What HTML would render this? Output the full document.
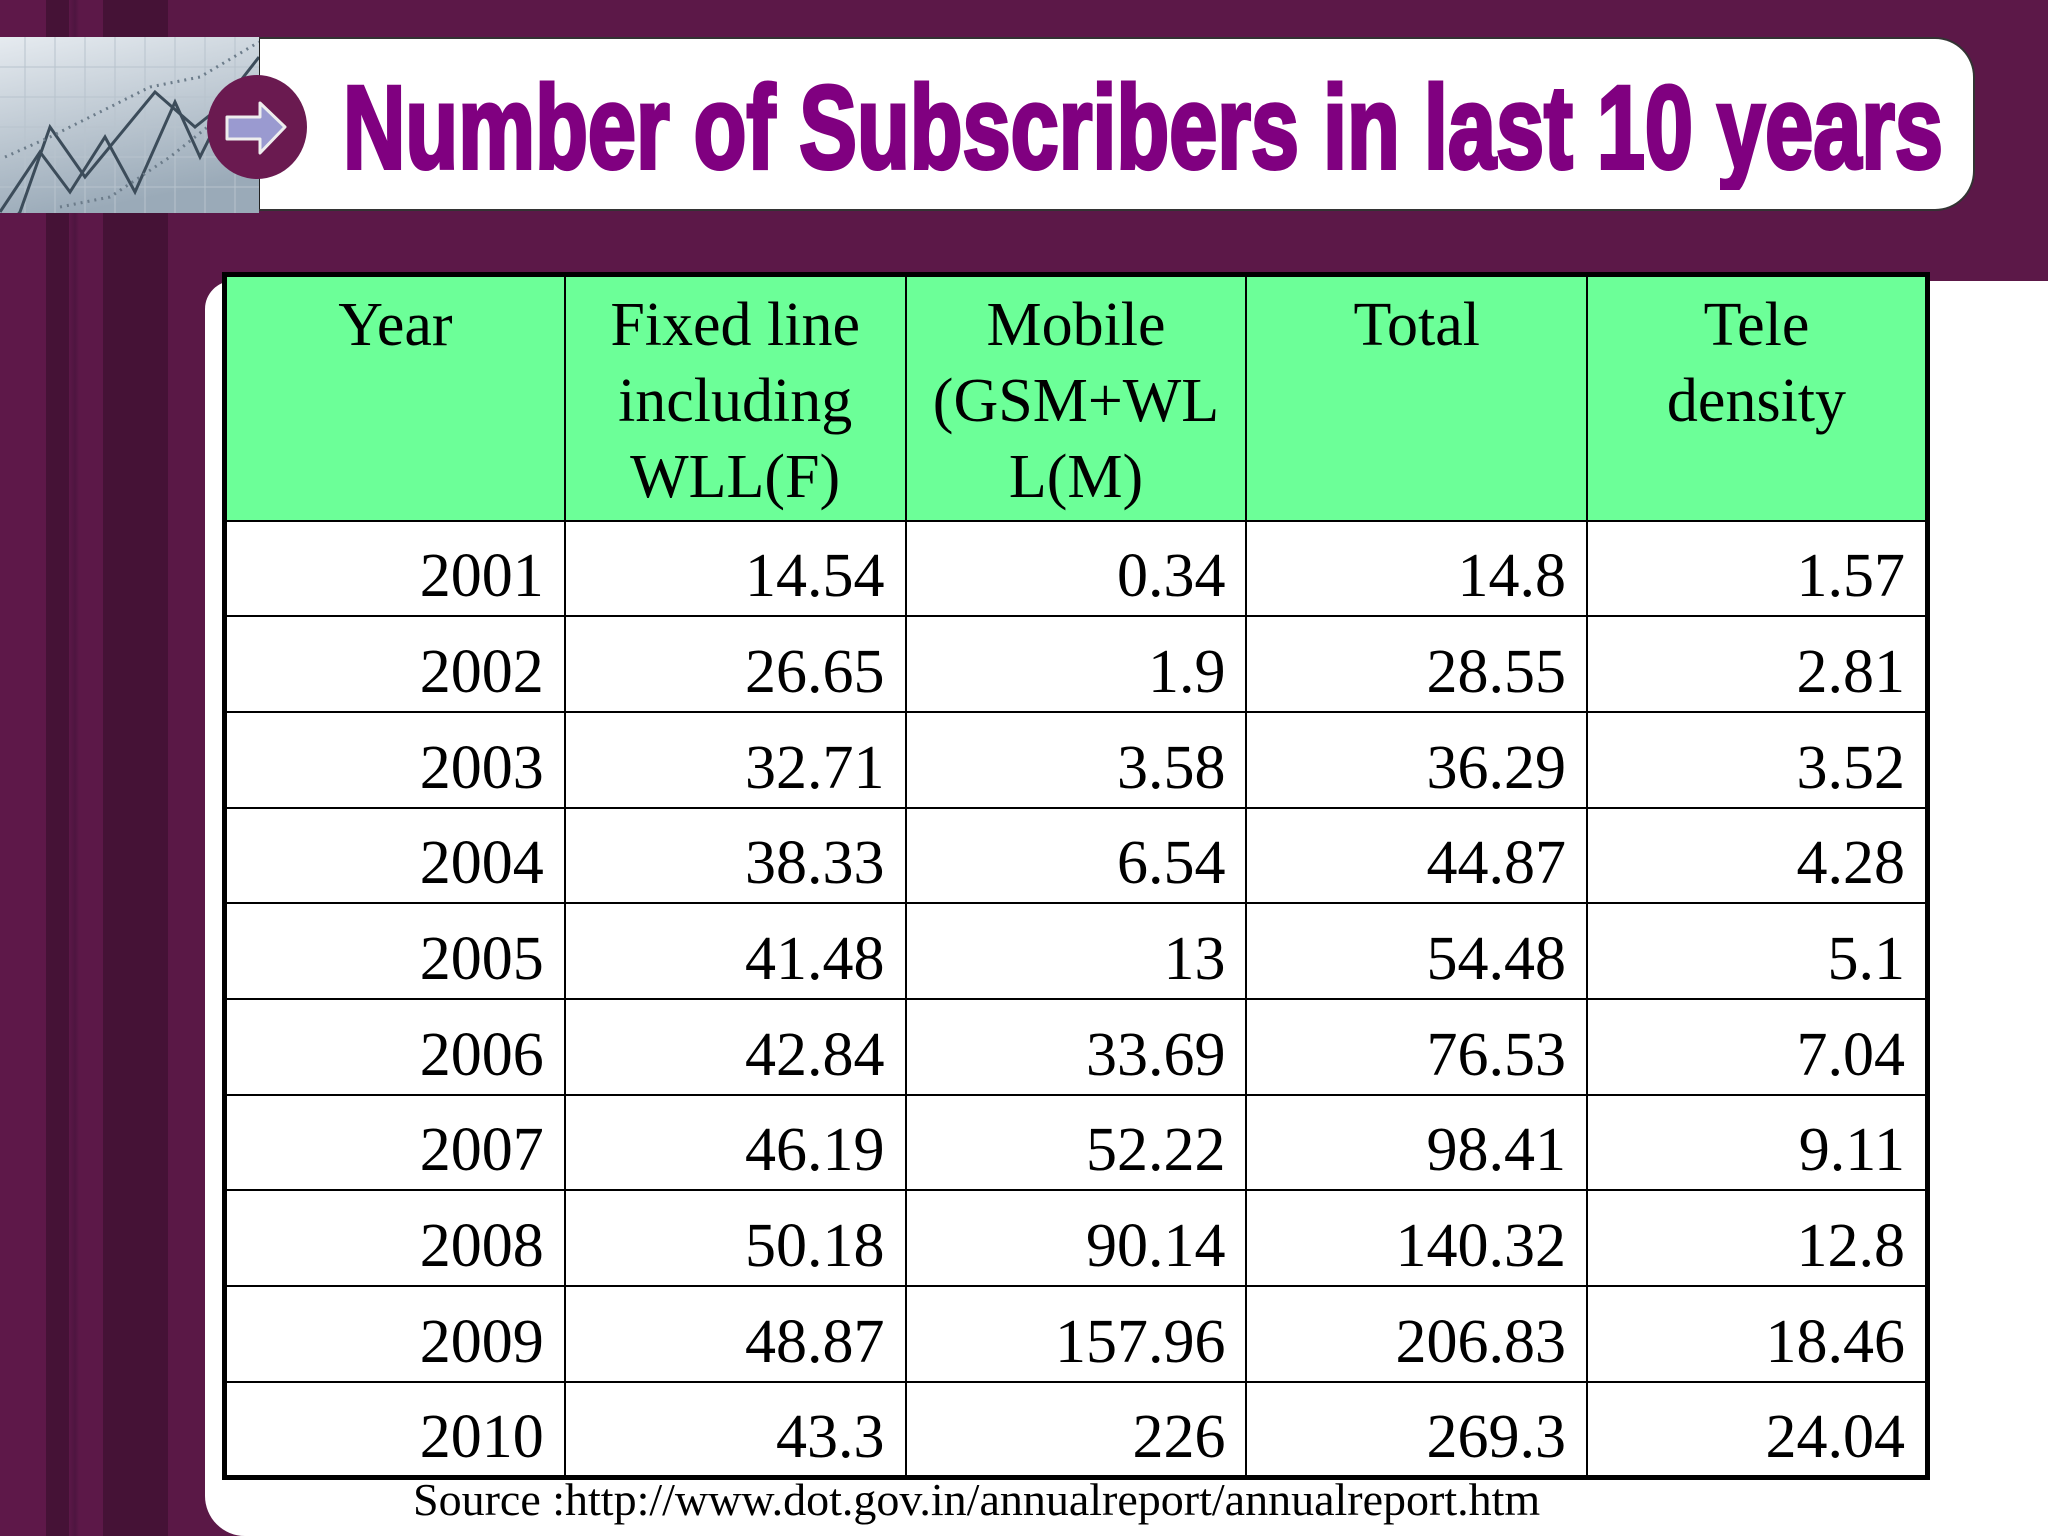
<!DOCTYPE html>
<html><head><meta charset="utf-8"><style>
html,body{margin:0;padding:0}
body{width:2048px;height:1536px;position:relative;overflow:hidden;background:#5c1848;font-family:"Liberation Serif",serif}
.abs{position:absolute}
table{border-collapse:collapse;position:absolute;left:222px;top:272px;width:1708px;border:5px solid #000}
td,th{border:2px solid #000;font-weight:normal;font-size:62px;color:#000;padding:0 20px;width:341px;box-sizing:border-box}
th{background:#6cff98;height:246px;vertical-align:top;text-align:center;line-height:76px;padding-top:10px}
td{height:95.7px;text-align:right;line-height:60px;padding-top:16px;background:#fff}
</style></head><body>
<div class="abs" style="left:0;top:0;width:210px;height:1536px;background:linear-gradient(90deg,#5e1849 0,#5e1849 46px,#451236 46px,#451236 69px,#5c1848 69px,#4e1540 75px,#5c1848 79px,#5c1848 103px,#451236 103px,#451236 168px,#5a1846 168px)"></div>
<div class="abs" style="left:205px;top:281px;width:1843px;height:1255px;background:#fff;border-radius:28px 0 0 40px"></div>
<div class="abs" style="left:257px;top:37px;width:1718px;height:174px;background:#fff;border:2px solid #333;border-left:3px solid #222;border-radius:0 40px 40px 0;box-sizing:border-box"></div>
<svg class="abs" style="left:0;top:37px" width="259" height="176" viewBox="0 0 259 176">
<defs><linearGradient id="g" x1="0" y1="0" x2="0.3" y2="1"><stop offset="0" stop-color="#e6ebf0"/><stop offset="1" stop-color="#9aaab8"/></linearGradient></defs>
<rect width="259" height="176" fill="url(#g)"/>
<g stroke="#b8c3cd" stroke-width="1"><path d="M0 30H259M0 60H259M0 90H259M0 120H259M0 150H259M25 0V176M55 0V176M85 0V176M115 0V176M145 0V176M175 0V176M205 0V176M235 0V176"/></g>
<polyline points="0,175 40,115 70,155 105,100 135,155 175,65 200,120 230,60 259,40" fill="none" stroke="#3c4c5a" stroke-width="3"/>
<polyline points="0,200 20,175 50,90 85,140 155,55 195,90 220,70 259,20" fill="none" stroke="#3c4c5a" stroke-width="3"/>
<polyline points="5,120 50,100 150,50 200,40 259,5" fill="none" stroke="#6c7c8a" stroke-width="3" stroke-dasharray="2 5"/>
<polyline points="60,170 110,160 170,120 220,80" fill="none" stroke="#6c7c8a" stroke-width="3" stroke-dasharray="2 5"/>
</svg>
<svg class="abs" style="left:205px;top:75px" width="105" height="105" viewBox="0 0 105 105">
<ellipse cx="52" cy="52" rx="50" ry="52" fill="#6a1a50"/>
<path d="M22 42H55V28L80 52L55 78V64H22Z" fill="#9a9ad0" stroke="#eee" stroke-width="3" stroke-linejoin="round"/>
</svg>
<svg class="abs" style="left:330px;top:60px" width="1630" height="130">
<text x="13" y="108" textLength="1600" lengthAdjust="spacingAndGlyphs" font-family="Liberation Sans Narrow, Liberation Sans, sans-serif" font-weight="bold" font-size="118" fill="#800080" stroke="#800080" stroke-width="4">Number of Subscribers in last 10 years</text>
</svg>
<table>
<tr><th>Year</th><th>Fixed line including WLL(F)</th><th>Mobile (GSM+WL L(M)</th><th>Total</th><th>Tele density</th></tr>
<tr><td>2001</td><td>14.54</td><td>0.34</td><td>14.8</td><td>1.57</td></tr>
<tr><td>2002</td><td>26.65</td><td>1.9</td><td>28.55</td><td>2.81</td></tr>
<tr><td>2003</td><td>32.71</td><td>3.58</td><td>36.29</td><td>3.52</td></tr>
<tr><td>2004</td><td>38.33</td><td>6.54</td><td>44.87</td><td>4.28</td></tr>
<tr><td>2005</td><td>41.48</td><td>13</td><td>54.48</td><td>5.1</td></tr>
<tr><td>2006</td><td>42.84</td><td>33.69</td><td>76.53</td><td>7.04</td></tr>
<tr><td>2007</td><td>46.19</td><td>52.22</td><td>98.41</td><td>9.11</td></tr>
<tr><td>2008</td><td>50.18</td><td>90.14</td><td>140.32</td><td>12.8</td></tr>
<tr><td>2009</td><td>48.87</td><td>157.96</td><td>206.83</td><td>18.46</td></tr>
<tr><td>2010</td><td>43.3</td><td>226</td><td>269.3</td><td>24.04</td></tr>
</table>
<div class="abs" style="left:413px;top:1474px;font-size:46px;line-height:52px;color:#000">Source :http://www.dot.gov.in/annualreport/annualreport.htm</div>
</body></html>
